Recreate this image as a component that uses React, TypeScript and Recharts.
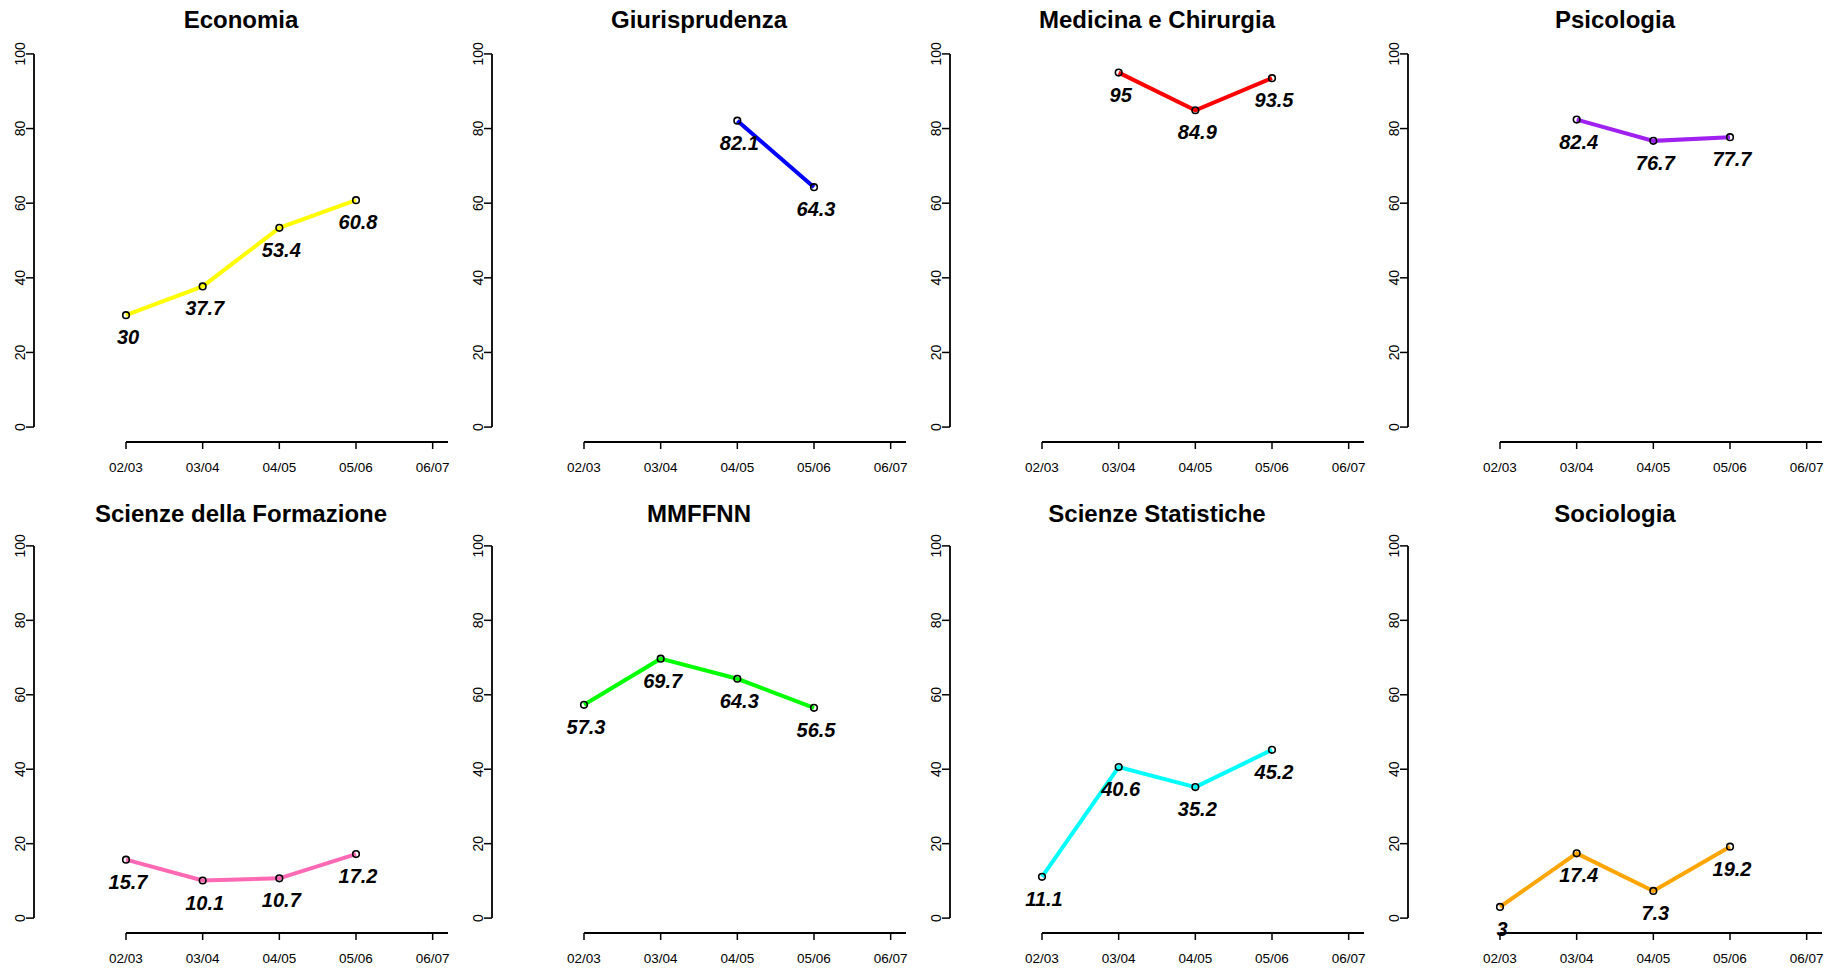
import React from "react";
import { LineChart, Line, XAxis, YAxis, ReferenceLine, LabelList } from "recharts";

// anni accademici
const seasons = ["02/03", "03/04", "04/05", "05/06", "06/07"];
const yTicks = [0, 20, 40, 60, 80, 100];

const economia = [30, 37.7, 53.4, 60.8, null];
const giurisprudenza = [null, null, 82.1, 64.3, null];
const medicina = [null, 95, 84.9, 93.5, null];
const psicologia = [null, 82.4, 76.7, 77.7, null];
const formazione = [15.7, 10.1, 10.7, 17.2, null];
const mmffnn = [57.3, 69.7, 64.3, 56.5, null];
const statistiche = [11.1, 40.6, 35.2, 45.2, null];
const sociologia = [3, 17.4, 7.3, 19.2, null];

const titles = [
  "Economia",
  "Giurisprudenza",
  "Medicina e Chirurgia",
  "Psicologia",
  "Scienze della Formazione",
  "MMFFNN",
  "Scienze Statistiche",
  "Sociologia",
];
const colors = ["#ffff00", "#0000ff", "#ff0000", "#a020f0", "#ff69b4", "#00ff00", "#00ffff", "#ffa500"];
const series = [economia, giurisprudenza, medicina, psicologia, formazione, mmffnn, statistiche, sociologia];

const FONT = "'Liberation Sans', Arial, sans-serif";
const PANEL_W = 458;
const PANEL_H = 486;

const YTick = (props: any) => {
  const { x, y, payload } = props;
  return (
    <text
      x={x + 1}
      y={y}
      transform={`rotate(-90 ${x + 1} ${y})`}
      textAnchor="middle"
      fontFamily={FONT}
      fontSize={14}
      fill="#000"
    >
      {payload.value}
    </text>
  );
};

const XTick = (props: any) => {
  const { x, y, payload } = props;
  return (
    <text x={x} y={y + 21} textAnchor="middle" fontFamily={FONT} fontSize={13.5} fill="#000">
      {seasons[payload.value - 1]}
    </text>
  );
};

const ValueLabel = (props: any) => {
  const { x, y, value } = props;
  if (value == null) return null;
  return (
    <text
      x={x + 2}
      y={y + 29}
      textAnchor="middle"
      fontFamily={FONT}
      fontSize={20}
      fontWeight="bold"
      fontStyle="italic"
      fill="#000"
    >
      {value}
    </text>
  );
};

const Panel = ({ idx }: { idx: number }) => {
  const row = Math.floor(idx / 4);
  const col = idx % 4;
  const data = series[idx].map((v, i) => ({ x: i + 1, v }));
  const top = row === 0 ? 39 : 45;
  const bottom = row === 0 ? 14 : 9;
  return (
    <div style={{ position: "absolute", left: col * PANEL_W, top: row * PANEL_H, width: PANEL_W, height: PANEL_H }}>
      <div
        style={{
          position: "absolute",
          left: 34,
          width: 414,
          top: row === 0 ? 5 : 13,
          textAlign: "center",
          fontFamily: FONT,
          fontWeight: "bold",
          fontSize: 24,
          lineHeight: "30px",
        }}
      >
        {titles[idx]}
      </div>
      <LineChart width={PANEL_W} height={PANEL_H} data={data} margin={{ top, right: 10, bottom, left: 0 }}>
        <XAxis
          type="number"
          dataKey="x"
          domain={[-0.2, 5.2]}
          ticks={[1, 2, 3, 4, 5]}
          allowDataOverflow
          axisLine={false}
          tickLine={{ stroke: "#000", strokeWidth: 1.5 }}
          tickSize={7}
          tick={<XTick />}
          height={30}
        />
        <YAxis
          type="number"
          domain={[-4, 104]}
          ticks={yTicks}
          allowDataOverflow
          axisLine={false}
          tickLine={{ stroke: "#000", strokeWidth: 1.5 }}
          tickSize={8}
          tick={<YTick />}
          width={34}
        />
        <ReferenceLine
          segment={[{ x: -0.2, y: 0 }, { x: -0.2, y: 100 }]}
          stroke="#000"
          strokeWidth={1.8}
          ifOverflow="visible"
        />
        <ReferenceLine
          segment={[{ x: 1, y: -4 }, { x: 5.2, y: -4 }]}
          stroke="#000"
          strokeWidth={1.8}
          ifOverflow="visible"
        />
        <Line
          dataKey="v"
          stroke="none"
          dot={{ r: 3.3, stroke: "#000", strokeWidth: 1.6, fill: "none" }}
          isAnimationActive={false}
        />
        <Line dataKey="v" stroke={colors[idx]} strokeWidth={4} dot={false} isAnimationActive={false}>
          <LabelList dataKey="v" content={<ValueLabel />} />
        </Line>
      </LineChart>
    </div>
  );
};

export default function App() {
  return (
    <div style={{ position: "relative", width: 1840, height: 972, background: "#fff" }}>
      <style>{`body{margin:0;background:#fff}`}</style>
      {titles.map((_, i) => (
        <Panel key={i} idx={i} />
      ))}
    </div>
  );
}
